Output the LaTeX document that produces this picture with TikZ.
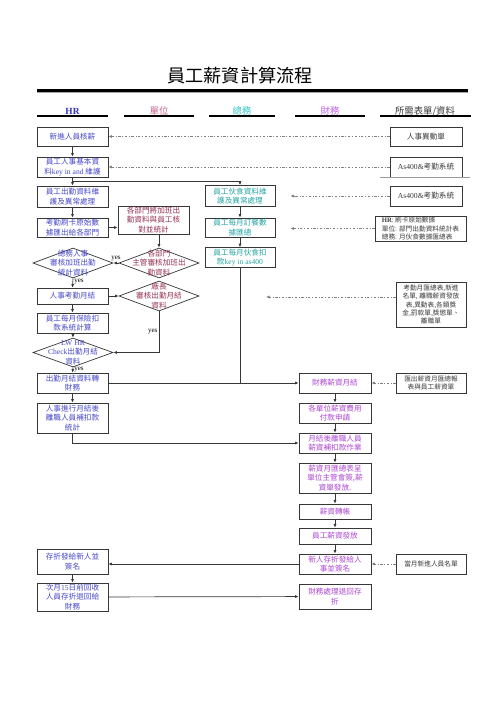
\documentclass[tikz,border=0pt]{standalone}
\usepackage{fontspec}
\setmainfont{Noto Sans CJK TC}
\newfontfamily\latin{Liberation Serif}
\usetikzlibrary{calc, positioning, arrows.meta, shapes.geometric, shadows}
\definecolor{hrblue}{RGB}{72,72,200}
\definecolor{hrhead}{RGB}{50,50,190}
\definecolor{unitred}{RGB}{150,50,85}
\definecolor{unitpink}{RGB}{200,100,140}
\definecolor{gateal}{RGB}{40,165,165}
\definecolor{gahead}{RGB}{60,200,200}
\definecolor{finviolet}{RGB}{175,70,210}
\definecolor{finhead}{RGB}{195,100,240}
\definecolor{docgray}{RGB}{60,60,60}
\definecolor{linegray}{RGB}{55,55,55}

\begin{document}
\begin{tikzpicture}[x=0.03cm, y=-0.03cm,
    box/.style={draw=linegray, fill=white, line width=0.6pt, minimum width=2.13cm,
      inner sep=1pt, align=center, font=\fontsize{6.5}{8}\selectfont,
      drop shadow={shadow xshift=0.6pt, shadow yshift=-0.6pt, fill=black!50}},
    hrbox/.style={box, text=hrblue},
    unitbox/.style={box, text=unitred},
    gabox/.style={box, text=gateal, minimum width=2.1cm},
    finbox/.style={box, text=finviolet, minimum width=2.16cm},
    docbox/.style={box, text=docgray, minimum width=2.16cm},
    smalldoc/.style={docbox, minimum width=2.1cm, font=\fontsize{5.7}{7}\selectfont},
    decision/.style={diamond, draw=linegray, fill=white, line width=0.6pt,
      minimum width=2.4cm, minimum height=0.9cm, inner sep=0pt},
    dtext/.style={align=center, font=\fontsize{6.5}{8}\selectfont},
    head/.style={font=\fontsize{8}{9}\selectfont},
    arrow/.style={-{Latex[length=3pt,width=2.6pt]}, linegray, line width=0.6pt},
    refarrow/.style={arrow, gray, dash pattern=on 2pt off 1.5pt on 0.6pt off 1.5pt},
    yes/.style={font=\latin\fontsize{6}{7}\selectfont, text=black, inner sep=1pt},
  ]
    \useasboundingbox (0,0) rectangle (499,706);
    \fill[white] (0,0) rectangle (499,706);

    % title and lanes
    \node[font=\fontsize{15.5}{17}\selectfont] (title) at (240,76) {員工薪資計算流程};
    \draw[line width=2pt] (37,90.5) -- (468,90.5);
    \draw[black!35, line width=0.8pt] (37,92.6) -- (468,92.6);
    \node[head, text=hrhead] (hhr) at (72.5,111) {\latin\bfseries HR};
    \node[head, text=unitpink] (hunit) at (159,111) {單位};
    \node[head, text=gahead] (hga) at (242,111) {總務};
    \node[head, text=finhead] (hfin) at (330,111) {財務};
    \node[head, text=docgray] (hdoc) at (425,111) {所需表單/資料};
    \draw[line width=0.9pt] (37,116) -- (108,116);
    \draw[line width=0.9pt] (124,116) -- (194,116);
    \draw[line width=0.9pt] (209,116) -- (275,116);
    \draw[line width=0.9pt] (295,116) -- (365,116);
    \draw[line width=0.9pt] (380,116) -- (471,116);

    % HR
    \node[hrbox, minimum height=0.57cm] (hr1) at (72.5,136.5) {新進人員核薪};
    \node[hrbox, minimum height=0.6cm] (hr2) at (72.5,167) {員工人事基本資\\料{\latin key in and} 維護};
    \node[hrbox, minimum height=0.63cm] (hr3) at (72.5,196.5) {員工出勤資料維\\護及異常處理};
    \node[hrbox, minimum height=0.57cm] (hr4) at (72.5,227.5) {考勤刷卡原始數\\據匯出給各部門};
    \node[decision, label={[dtext, text=hrblue]center:{總務人事\\審核加班出勤\\統計資料}}] (hd1) at (73,263) {};
    \node[hrbox, minimum height=0.48cm] (hr6) at (72.5,296) {人事考勤月結};
    \node[hrbox, minimum height=0.6cm] (hr7) at (72.5,323) {員工每月保險扣\\款系統計算};
    \node[decision, minimum height=0.87cm, label={[dtext, text=hrblue]center:{{\latin LW HR}\\{\latin Check}出勤月結\\資料}}] (hd2) at (73,352.5) {};
    \node[hrbox, minimum height=0.6cm] (hr9) at (72.5,383) {出勤月結資料轉\\財務};
    \node[hrbox, minimum height=0.9cm] (hr10) at (72.5,418) {人事進行月結後\\離職人員補扣款\\統計};
    \node[hrbox, minimum height=0.75cm] (hr11) at (72.5,561.5) {存折發給新人並\\簽名};
    \node[hrbox, minimum height=0.78cm] (hr12) at (72.5,597) {次月{\latin 15}日前回收\\人員存折退回給\\財務};

    % unit
    \node[unitbox, minimum height=0.78cm] (unit1) at (153.5,220) {各部門將加班出\\勤資料與員工核\\對並統計};
    \node[decision, label={[dtext, text=unitred]center:{各部門\\主管審核加班出\\勤資料}}] (ud1) at (159,263) {};
    \node[decision, label={[dtext, text=unitred]center:{廠長\\審核出勤月結\\資料}}] (zd) at (159,296) {};

    % general affairs
    \node[gabox, minimum height=0.63cm] (ga1) at (240,196) {員工伙食資料維\\護及異常處理};
    \node[gabox, minimum height=0.57cm] (ga2) at (240,227.5) {員工每月訂餐數\\據匯總};
    \node[gabox, minimum height=0.57cm] (ga3) at (240,257.5) {員工每月伙食扣\\款{\latin key in as400}};

    % finance
    \node[finbox, minimum height=0.6cm] (fin1) at (335,383) {財務薪資月結};
    \node[finbox, minimum height=0.6cm] (fin2) at (335,413) {各單位薪資費用\\付款申請};
    \node[finbox, minimum height=0.6cm] (fin3) at (335,443) {月結後離職人員\\薪資補扣款作業};
    \node[finbox, minimum height=0.9cm] (fin4) at (335,478) {薪資月匯總表呈\\單位主管會簽,薪\\資單發放.};
    \node[finbox, minimum height=0.45cm] (fin5) at (335,511.5) {薪資轉帳};
    \node[finbox, minimum height=0.48cm] (fin6) at (335,536) {員工薪資發放};
    \node[finbox, minimum height=0.6cm] (fin7) at (335,564) {新人存折發給人\\事並簽名};
    \node[finbox, minimum height=0.75cm] (fin8) at (335,596.5) {財務處理退回存\\折};

    % documents
    \node[docbox, minimum height=0.57cm] (doc1) at (426,136.5) {人事異動單};
    \node[docbox, minimum height=0.6cm] (doc2) at (426,167) {{\latin As400\&}考勤系統};
    \node[docbox, minimum height=0.6cm] (doc3) at (426,196) {{\latin As400\&}考勤系統};
    \node[smalldoc, minimum width=2.73cm, minimum height=0.75cm, align=left] (doc4) at (420.5,228.5)
      {{\latin\bfseries HR}: 刷卡原始數據\\單位: 部門出勤資料統計表\\總務: 月伙食數據匯總表};
    \node[smalldoc, minimum height=1.35cm] (doc5) at (431,304.5) {考勤月匯總表,新進\\名單, 離職薪資發放\\表,異動表,各類獎\\金,罰款單,獎懲單、\\離職單};
    \node[smalldoc, minimum height=0.6cm] (doc6) at (431,383) {匯出薪資月匯總報\\表與員工薪資單};
    \node[smalldoc, minimum height=0.6cm] (doc7) at (431,564) {當月新進人員名單};
    \draw[black!40, line width=0.5pt] (380,177.6) -- (470,177.6);

    % HR flow
    \draw[arrow] (hr1) -- (hr2);
    \draw[arrow] (hr2) -- (hr3);
    \draw[arrow] ($(hr2.south)!0.5!(hr3.north)$) -| (ga1.north);
    \draw[arrow] (hr3) -- (hr4);
    \draw[arrow] (hr4.east) -- (hr4.east -| unit1.west);
    \draw[arrow] (unit1.south -| ud1.north) -- (ud1.north);
    \draw[arrow] (ud1.west) -- node[yes, above] {yes} (hd1.east);
    \draw[arrow] (hd1.south) -- node[yes, right, pos=0.35] {yes} (hr6.north);
    \draw[arrow] (hr6) -- (zd);
    \draw[arrow] (hr6) -- (hr7);
    \draw[arrow] (hr7) -- (hd2.north);
    \draw[arrow] (zd.south) |- node[yes, left, pos=0.25] {yes} (hd2.east);
    \draw[arrow] (hd2.south) -- node[yes, right, pos=0.4] {yes} (hr9.north);
    \draw[arrow] (hr9) -- (hr10);
    \draw[arrow] (hr9) -- (fin1);
    \draw[arrow] (hr10.south) |- (fin3.west);
    \draw[arrow] (hr11) -- (hr12);
    \draw[arrow] (hr12) -- (fin8);

    % general affairs flow
    \draw[arrow] (ga1) -- (ga2);
    \draw[arrow] (ga2) -- (ga3);
    \draw[linegray, line width=0.6pt] (ga3.south) -- (ga3.south |- hr9.east);

    % finance flow
    \draw[arrow] (fin1) -- (fin2);
    \draw[arrow] (fin2) -- (fin3);
    \draw[arrow] (fin3) -- (fin4);
    \draw[arrow] (fin4) -- (fin5);
    \draw[arrow] (fin5) -- (fin6);
    \draw[arrow] (fin6) -- (fin7);
    \draw[arrow] (fin7.west) -- (fin7.west -| hr11.east);

    % documents
    \coordinate (attend) at (266,297);
    \draw[refarrow] (doc1) -- (hr1);
    \draw[refarrow] (doc2) -- (hr2);
    \draw[refarrow, shorten >=0.45cm] (doc3) -- (ga1);
    \draw[refarrow, shorten >=0.45cm] (doc4.west) -- (doc4.west -| ga2.east);
    \draw[refarrow] (doc5.west |- attend) -- (attend);
    \draw[refarrow] (doc6) -- (fin1);
    \draw[refarrow] (doc7) -- (fin7);
\end{tikzpicture}
\end{document}
